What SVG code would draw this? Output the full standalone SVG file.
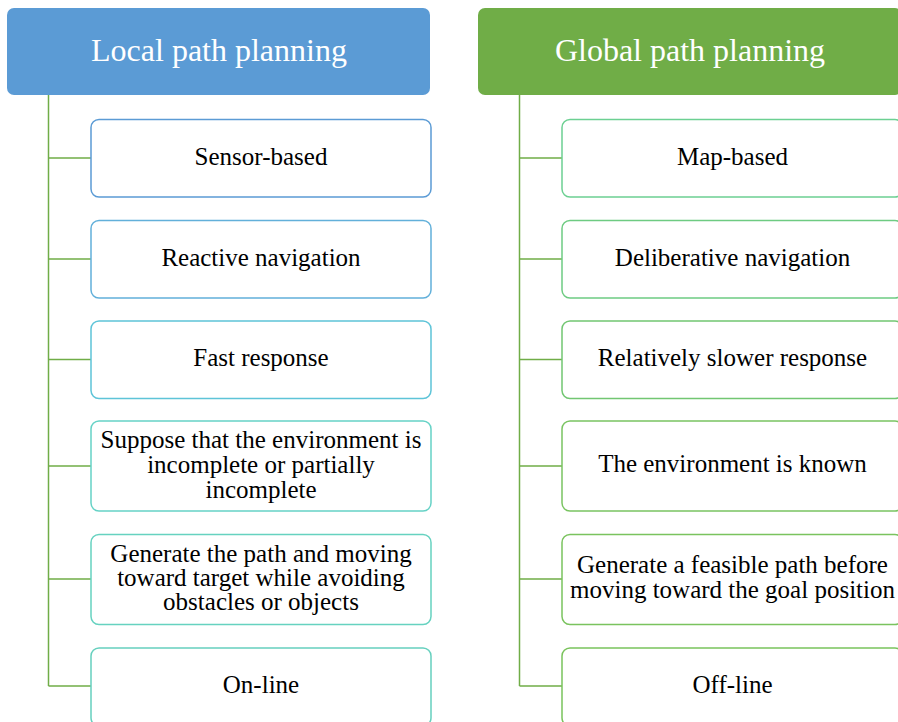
<svg xmlns="http://www.w3.org/2000/svg" width="898" height="722" viewBox="0 0 898 722">
<style>
.hdr{font-family:"Liberation Serif","Times New Roman",serif;font-size:32px;fill:#ffffff;text-anchor:middle}
.t{font-family:"Liberation Serif","Times New Roman",serif;font-size:25px;fill:#000000;text-anchor:middle}
.box{fill:#ffffff;stroke-width:1.5}
.conn{fill:none;stroke:#70AD47;stroke-width:1.5}
</style>
<rect width="898" height="722" fill="#ffffff"/>
<g id="connectors">
<path class="conn" d="M48.5 95 V686 M48.5 158 H91 M48.5 259 H91 M48.5 359.5 H91 M48.5 466 H91 M48.5 579 H91 M48.5 686 H91"/>
<path class="conn" d="M519.5 95 V686 M519.5 158 H562 M519.5 259 H562 M519.5 359.5 H562 M519.5 466 H562 M519.5 579 H562 M519.5 686 H562"/>
</g>
<g id="local-header">
<rect x="7" y="8" width="423" height="87" rx="7" fill="#5B9BD5"/>
<text class="hdr" x="219" y="61">Local path planning</text>
</g>
<g id="global-header">
<rect x="478" y="8" width="424" height="87" rx="7" fill="#70AD47"/>
<text class="hdr" x="690" y="61">Global path planning</text>
</g>
<g id="l1"><rect class="box" x="91" y="119.5" width="340" height="77.5" rx="8" stroke="#5B9BD5"/><text class="t" x="261" y="165">Sensor-based</text></g>
<g id="l2"><rect class="box" x="91" y="220.5" width="340" height="77.5" rx="8" stroke="#62B0DA"/><text class="t" x="261" y="266">Reactive navigation</text></g>
<g id="l3"><rect class="box" x="91" y="321" width="340" height="77.5" rx="8" stroke="#5EC4D8"/><text class="t" x="261" y="366">Fast response</text></g>
<g id="l4"><rect class="box" x="91" y="421" width="340" height="90" rx="8" stroke="#66D2C6"/><text class="t" x="261" y="448">Suppose that the environment is</text><text class="t" x="261" y="473">incomplete or partially</text><text class="t" x="261" y="498">incomplete</text></g>
<g id="l5"><rect class="box" x="91" y="534.5" width="340" height="90" rx="8" stroke="#66D2C0"/><text class="t" x="261" y="562">Generate the path and moving</text><text class="t" x="261" y="586">toward target while avoiding</text><text class="t" x="261" y="610">obstacles or objects</text></g>
<g id="l6"><rect class="box" x="91" y="648" width="340" height="78" rx="8" stroke="#66D0BE"/><text class="t" x="261" y="693">On-line</text></g>
<g id="g1"><rect class="box" x="562" y="119.5" width="341" height="77.5" rx="8" stroke="#6CD092"/><text class="t" x="732.5" y="165">Map-based</text></g>
<g id="g2"><rect class="box" x="562" y="220.5" width="341" height="77.5" rx="8" stroke="#6ECB82"/><text class="t" x="732.5" y="266">Deliberative navigation</text></g>
<g id="g3"><rect class="box" x="562" y="321" width="341" height="77.5" rx="8" stroke="#72C672"/><text class="t" x="732.5" y="366">Relatively slower response</text></g>
<g id="g4"><rect class="box" x="562" y="421" width="341" height="90" rx="8" stroke="#7AC462"/><text class="t" x="732.5" y="472">The environment is known</text></g>
<g id="g5"><rect class="box" x="562" y="534.5" width="341" height="90" rx="8" stroke="#7AC35E"/><text class="t" x="732.5" y="573">Generate a feasible path before</text><text class="t" x="732.5" y="598">moving toward the goal position</text></g>
<g id="g6"><rect class="box" x="562" y="648" width="341" height="78" rx="8" stroke="#7AC35C"/><text class="t" x="732.5" y="693">Off-line</text></g>
</svg>
